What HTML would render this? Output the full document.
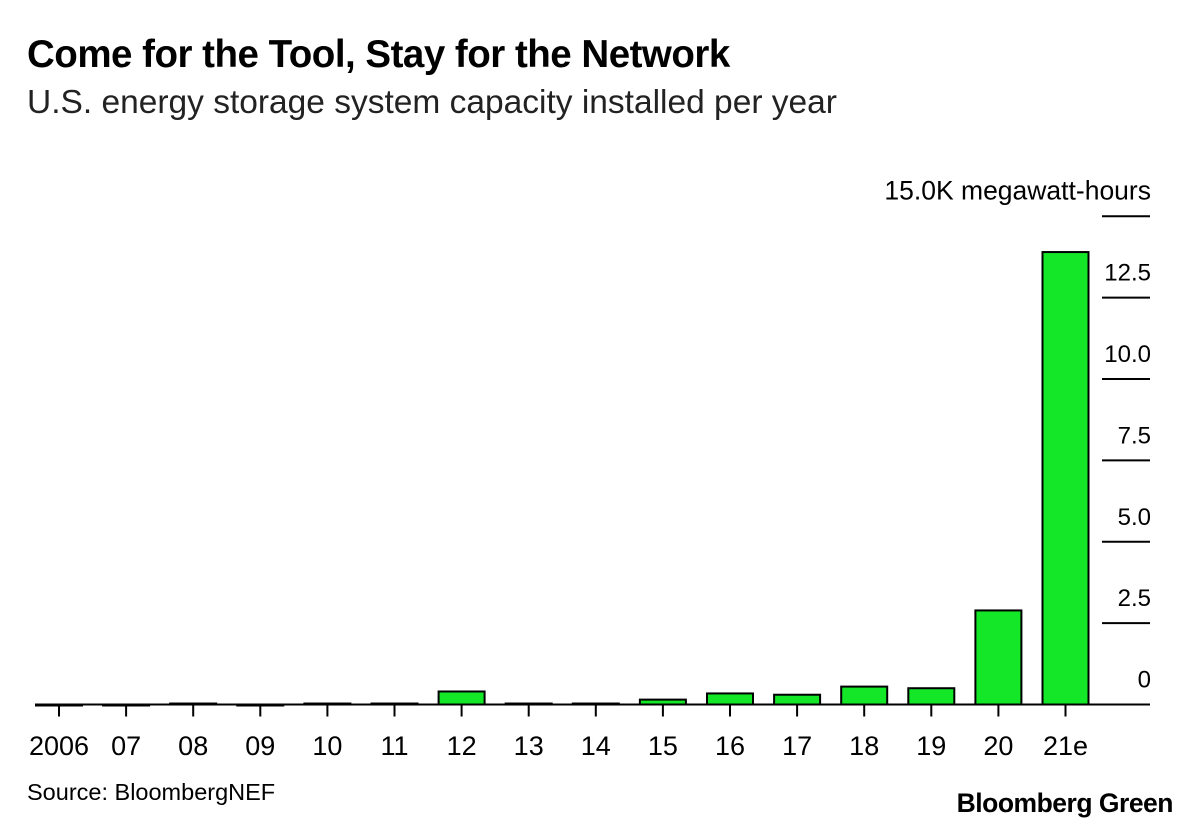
<!DOCTYPE html>
<html><head><meta charset="utf-8">
<style>
body{margin:0;background:#fff;width:1200px;height:830px;overflow:hidden;font-family:"Liberation Sans",sans-serif;}
.t{position:absolute;left:27px;top:33px;font-size:38.5px;font-weight:bold;color:#000;letter-spacing:-0.5px}
.s{position:absolute;left:27px;top:84px;font-size:33.5px;color:#222}
.src{position:absolute;left:27px;top:779px;font-size:23.5px;color:#000}
.brand{position:absolute;right:27px;top:788px;font-size:26.5px;font-weight:bold;letter-spacing:-0.5px}
</style></head><body>
<div class="t">Come for the Tool, Stay for the Network</div>
<div class="s">U.S. energy storage system capacity installed per year</div>
<svg id="c" width="1200" height="830" style="position:absolute;left:0;top:0"></svg>
<div class="src">Source: BloombergNEF</div>
<div class="brand">Bloomberg Green</div>
<script>
const categories=["2006","07","08","09","10","11","12","13","14","15","16","17","18","19","20","21e"];
const values=[-0.03,-0.03,0.03,-0.03,0.03,0.03,0.4,0.03,0.03,0.15,0.34,0.3,0.55,0.5,2.89,13.9];
const ticks=[0,2.5,5,7.5,10,12.5,15];
const tickLabels=["0","2.5","5.0","7.5","10.0","12.5","15.0K megawatt-hours"];
const NS="http://www.w3.org/2000/svg";
const svg=document.getElementById('c');
const y0=704.5,pxPer=32.55;
const y=v=>y0-v*pxPer;
const x=i=>59+i*67.1;
function mk(t,a){const e=document.createElementNS(NS,t);for(const k in a)e.setAttribute(k,a[k]);svg.appendChild(e);return e;}
ticks.forEach((t,i)=>{
  if(t>0){const l=mk('line',{x1:1102,x2:1150,y1:y(t),y2:y(t),stroke:'#000','stroke-width':2});
  
  }
  const tx=mk('text',{x:1151,y:y(t)-17,'text-anchor':'end','font-size':i==6?26.5:24,fill:'#000','font-family':'Liberation Sans'});
  tx.textContent=tickLabels[i];
  
  
});
values.forEach((v,i)=>{
  const h=Math.abs(v*pxPer), top=v>=0?y(v):y0;
  const r=mk('rect',{x:x(i)-23,y:top,width:46,height:Math.max(h,1),fill:Math.abs(v)<0.1?'#000':'#14e628',stroke:'#000','stroke-width':2});
  
  
  const tk=mk('line',{x1:x(i),x2:x(i),y1:y0,y2:y0+12,stroke:'#000','stroke-width':2});
  
  
  const lb=mk('text',{x:x(i),y:755,'text-anchor':'middle','font-size':27,fill:'#000','font-family':'Liberation Sans'});
  lb.textContent=categories[i];
  
  
});
const base=mk('line',{x1:35,x2:1150,y1:y0,y2:y0,stroke:'#000','stroke-width':2});


</script>
</body></html>
